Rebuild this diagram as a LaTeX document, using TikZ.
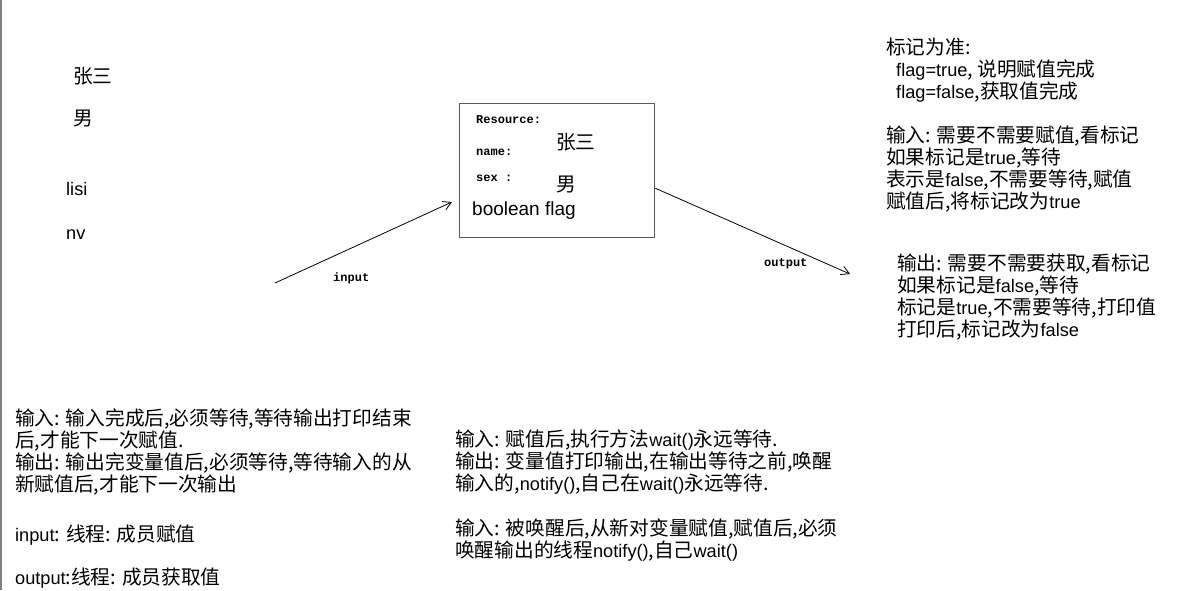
\documentclass[tikz,border=0pt]{standalone}
\usepackage{fontspec}
\setmainfont{Noto Sans CJK SC}
\newfontfamily\lat{Liberation Sans}
\newfontfamily\code{Liberation Mono}
\usepackage{tikz}
\usetikzlibrary{arrows.meta,calc}
\newcommand{\en}[1]{{\lat\fontsize{18.2}{22}\selectfont #1}}
\tikzset{
  note/.style={anchor=north west, inner sep=0pt, align=left, font=\fontsize{19.7}{22}\selectfont},
  word/.style={anchor=west, inner sep=0pt, font=\fontsize{19.7}{22}\selectfont},
  field/.style={anchor=west, inner sep=0pt, font=\code\bfseries\fontsize{12}{14}\selectfont},
  flow/.style={-{Straight Barb[length=8pt,width=9pt]}, line width=0.8pt},
}

\begin{document}
\begin{tikzpicture}[x=1pt,y=-1pt]
	\useasboundingbox (0,0) rectangle (1184,590);
	\fill[white] (0,0) rectangle (1184,590);
	\draw[gray, line width=2.5pt] (1.2,0) -- (1.2,590);
	% values on the left
	\node[word] (nameA) at (73,76) {张三};
	\node[word] (sexA) at (73,119) {男};
	\node[word] (nameB) at (66,189) {\en{lisi}};
	\node[word] (sexB) at (66,235) {\en{nv}};
	% shared resource
	\node[draw=black!65, line width=1.3pt, anchor=north west, minimum width=195pt, minimum height=134pt, inner sep=0pt] (res) at (459,103) {};
	\node[field] (resname) at (476,120) {Resource:};
	\node[field] (fname) at (476,152) {name:};
	\node[field] (fsex) at (476,178) {sex :};
	\node[word] (vname) at (556,142) {张三};
	\node[word] (vsex) at (556,185) {男};
	\node[word, font=\lat\fontsize{19}{24}\selectfont] (flag) at (472,211) {boolean flag};
	% input and output
	\coordinate (inStart) at (275,283);
	\coordinate (inEnd) at (452,202);
	\coordinate (outEnd) at (850,274);
	\draw[flow] (inStart) -- (inEnd);
	\draw[flow] ($(res.north east)!0.63!(res.south east)$) -- (outEnd);
	\node[field] (inlbl) at (333,278) {input};
	\node[field] (outlbl) at (764,264) {output};
	% flag rules
	\node[note] (inrule) at (886,38) {标记为准:\\
		\hspace*{10pt}\en{flag=true}, 说明赋值完成\\
		\hspace*{10pt}\en{flag=false},获取值完成\\[22pt]
		输入: 需要不需要赋值,看标记\\
		如果标记是\en{true},等待\\
		表示是\en{false},不需要等待,赋值\\
		赋值后,将标记改为\en{true}};
	\node[note] (outrule) at (897,254) {输出: 需要不需要获取,看标记\\
		如果标记是\en{false},等待\\
		标记是\en{true},不需要等待,打印值\\
		打印后,标记改为\en{false}};
	% waiting
	\node[note] (waitnote) at (15,409) {输入: 输入完成后,必须等待,等待输出打印结束\\
		后,才能下一次赋值.\\
		输出: 输出完变量值后,必须等待,等待输入的从\\
		新赋值后,才能下一次输出};
	\node[word] (thrIn) at (15,535) {\en{input}: 线程: 成员赋值};
	\node[word] (thrOut) at (15,578) {\en{output}:线程: 成员获取值};
	% wait and notify
	\node[note] (notifynote) at (455,430) {输入: 赋值后,执行方法\en{wait()}永远等待.\\
		输出: 变量值打印输出,在输出等待之前,唤醒\\
		输入的,\en{notify()},自己在\en{wait()}永远等待.\\[23pt]
		输入: 被唤醒后,从新对变量赋值,赋值后,必须\\
		唤醒输出的线程\en{notify()},自己\en{wait()}};
\end{tikzpicture}
\end{document}
